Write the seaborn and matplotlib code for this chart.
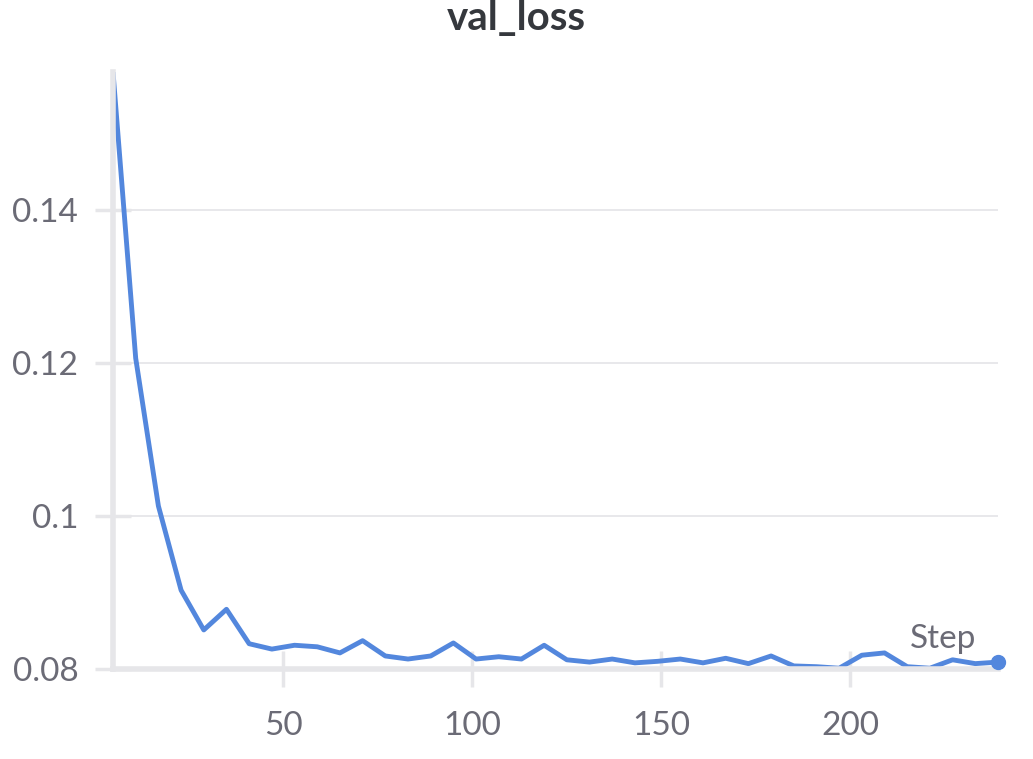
import seaborn as sns
import matplotlib
import matplotlib.pyplot as plt
import pandas as pd

matplotlib.use('Agg')

steps = [5, 11, 17, 23, 29, 35, 41, 47, 53, 59, 65, 71, 77, 83, 89, 95, 101, 107, 113, 119,
         125, 131, 137, 143, 149, 155, 161, 167, 173, 179, 185, 191, 197, 203, 209, 215, 221, 227, 233, 239]
val_loss = [0.1580, 0.1206, 0.1013, 0.0903, 0.0851, 0.0878, 0.0833, 0.0826, 0.0831, 0.0829,
            0.0821, 0.0837, 0.0817, 0.0813, 0.0817, 0.0834, 0.0813, 0.0816, 0.0813, 0.0831,
            0.0812, 0.0809, 0.0813, 0.0808, 0.0810, 0.0813, 0.0808, 0.0814, 0.0807, 0.0817,
            0.0804, 0.0803, 0.0801, 0.0818, 0.0821, 0.0803, 0.0801, 0.0812, 0.0807, 0.0809]
y_ticks = [0.08, 0.1, 0.12, 0.14]
y_tick_labels = ["0.08", "0.1", "0.12", "0.14"]
x_ticks = [50, 100, 150, 200]

LINE = "#5387DD"
GRID = "#E6E6E9"
TEXT = "#6B6B76"

sns.set_style("white")
plt.rcParams['font.family'] = ['Lato', 'DejaVu Sans']

df = pd.DataFrame({"Step": steps, "val_loss": val_loss})

fig = plt.figure(figsize=(10.33, 7.59), dpi=100)
ax = fig.add_axes([0.1094, 0.1186, 0.8567, 0.7865])

sns.lineplot(data=df, x="Step", y="val_loss", ax=ax, color=LINE, linewidth=3.5)
ax.plot(steps[-1:], val_loss[-1:], "o", color=LINE, markersize=10, clip_on=False, zorder=5)

ax.set_xlim(5, 239)
ax.set_ylim(0.08, 0.158)
ax.set_yticks(y_ticks)
ax.set_yticklabels(y_tick_labels)
ax.set_xticks(x_ticks)

ax.yaxis.grid(True, color=GRID, linewidth=1.3)
ax.xaxis.grid(False)
ax.set_axisbelow(True)

for side in ["top", "right"]:
    ax.spines[side].set_visible(False)
for side in ["left", "bottom"]:
    ax.spines[side].set_color(GRID)
    ax.spines[side].set_linewidth(4)

ax.tick_params(axis="both", direction="inout", length=26, width=2.5, color=GRID,
               labelsize=24, labelcolor=TEXT, pad=12, bottom=True, left=True)
ax.tick_params(axis="x", pad=17)

ax.set_xlabel("")
ax.set_ylabel("")
ax.text(0.975, 0.025, "Step", transform=ax.transAxes, ha="right", va="bottom",
        fontsize=24, color=TEXT)

fig.suptitle("val_loss", x=0.5, y=1.0, fontsize=29, fontweight="bold", color="#35383D")

fig.savefig("out.png", dpi=100)
